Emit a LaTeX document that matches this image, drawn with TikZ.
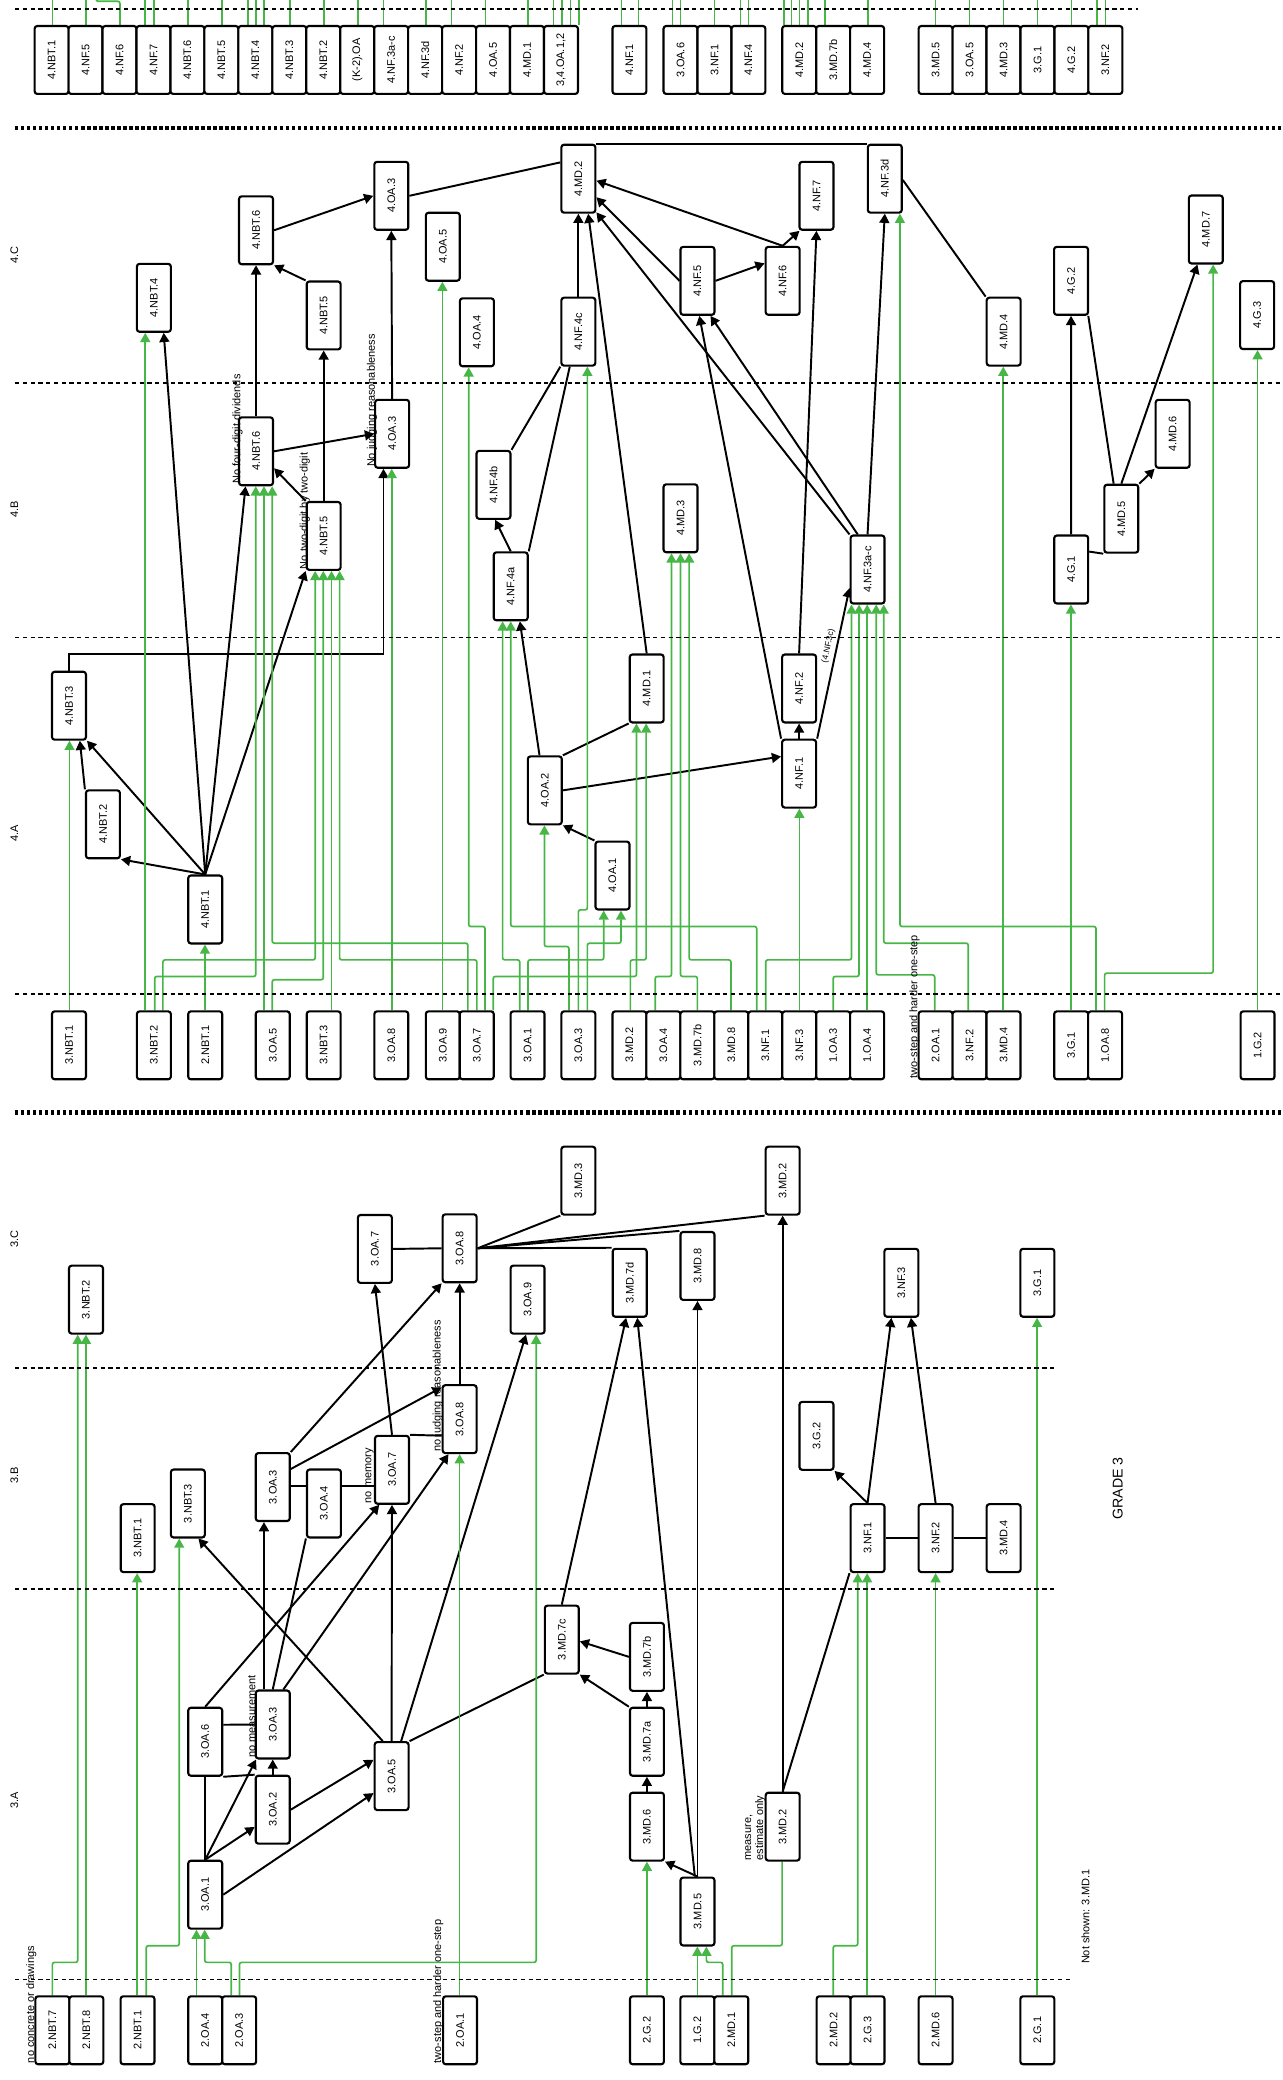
\documentclass[tikz,border=0pt]{standalone}
\usepackage{fontspec}
\setmainfont{Liberation Sans}
\usetikzlibrary{arrows.meta,calc}
\definecolor{gcol}{RGB}{70,182,70}
\newcommand\fsz{\fontsize{6.2}{6.9}\selectfont}
\newcommand\fszs{\fontsize{4.8}{5.4}\selectfont}
\newcommand\fszb{\fontsize{8}{9}\selectfont}
\newcommand\rt[1]{\rotatebox{90}{#1}}
\pgfdeclarelayer{bg}
\pgfsetlayers{bg,main}
\newcommand\gel[5]{\draw[ga] (#2,0 |- #1.north) -- (#2,#3) -- (#5,#3) -- (#5,0 |- #4.south);}
\newcommand\gelna[5]{\draw[gl] (#2,0 |- #1.north) -- (#2,#3) -- (#5,#3) -- (#5,0 |- #4.south);}
\newcommand\gst[3]{\draw[ga] (#2,0 |- #1.north) -- (#2,0 |- #3.south);}
\begin{document}
\begin{tikzpicture}[x=0.75pt,y=-0.75pt,
  box/.style={draw=black, line width=1.2pt, rounded corners=1.5pt, fill=white,
    minimum width=19.2pt, minimum height=38.4pt, inner sep=0pt, font=\fsz},
  bl/.style={line width=1.1pt, black},
  ba/.style={bl, -{Triangle[length=5.2pt,width=5.6pt]}},
  gl/.style={line width=0.95pt, gcol, rounded corners=1.2pt},
  ga/.style={gl, -{Triangle[length=5.2pt,width=5.6pt]}},
  lbl/.style={inner sep=0pt, font=\fsz},
  dsh/.style={line width=0.9pt, dash pattern=on 2.4pt off 2pt},
  thk/.style={line width=2.5pt, dash pattern=on 1.9pt off 1.5pt}]
\useasboundingbox (0,0) rectangle (967,1568);
\coordinate (top) at (0,0);

% ---------- separators ----------
\draw[dsh] (11.3,6.8) -- (858,6.8);
\draw[thk] (11.3,96.5) -- (967,96.5);
\draw[dsh] (11.3,288.7) -- (967,288.7);
\draw[dsh] (11.3,480.6) -- (967,480.6);
\draw[dsh] (11.3,749.2) -- (967,749.2);
\draw[thk] (11.3,838.6) -- (967,838.6);
\draw[dsh] (11.3,1031.3) -- (794.7,1031.3);
\draw[dsh] (11.3,1197.9) -- (794.7,1197.9);
\draw[dsh] (11.3,1492.1) -- (807.1,1492.1);

% ---------- top strip ----------
\foreach \n/\xx/\tx in {t1/38.9/4.NBT.1,t2/64.5/4.NF.5,t3/90.1/4.NF.6,t4/115.7/4.NF.7,
  t5/141.3/4.NBT.6,t6/166.9/4.NBT.5,t7/192.5/4.NBT.4,t8/218.1/4.NBT.3,t9/243.7/4.NBT.2,
  t10/269.3/(K-2).OA,t11/294.9/4.NF.3a-c,t12/320.5/4.NF.3d,t13/346.1/4.NF.2,t14/371.7/4.OA.5,
  t15/397.3/4.MD.1,t16/422.9/{3,4.OA.1,2},t17/474.5/4.NF.1,t18/513/3.OA.6,t19/538.6/3.NF.1,
  t20/564.2/4.NF.4,t21/602.5/4.MD.2,t22/628.1/3.MD.7b,t23/653.7/4.MD.4,t24/705.3/3.MD.5,
  t25/730.9/3.OA.5,t26/756.5/4.MD.3,t27/782.1/3.G.1,t28/807.7/4.G.2,t29/833.3/3.NF.2}
  \node[box] (\n) at (\xx,45.2) {\rt{\tx}};

% ---------- grade 4 ----------
\node[box] (fMD2) at (436,134.7) {\rt{4.MD.2}};
\node[box] (fOA3c) at (295,147.6) {\rt{4.OA.3}};
\node[box] (fNBT6c) at (193,173.6) {\rt{4.NBT.6}};
\node[box] (fOA5) at (333.8,186) {\rt{4.OA.5}};
\node[box] (fNBT4) at (116,224.5) {\rt{4.NBT.4}};
\node[box] (fNBT5c) at (244,237.8) {\rt{4.NBT.5}};
\node[box] (fOA4) at (359.5,250.5) {\rt{4.OA.4}};
\node[box] (fNF4c) at (436,250) {\rt{4.NF.4c}};
\node[box] (fNF3d) at (667,134.7) {\rt{4.NF.3d}};
\node[box] (fNF7) at (615.5,147.6) {\rt{4.NF.7}};
\node[box] (fNF5) at (525.8,211.7) {\rt{4.NF.5}};
\node[box] (fNF6) at (590,211.7) {\rt{4.NF.6}};
\node[box] (fMD7) at (909,173) {\rt{4.MD.7}};
\node[box] (fG2) at (807.4,211.7) {\rt{4.G.2}};
\node[box] (fMD4) at (756.6,250) {\rt{4.MD.4}};
\node[box] (fG3) at (947.7,237.5) {\rt{4.G.3}};
\node[box] (fNBT6b) at (193,340.2) {\rt{4.NBT.6}};
\node[box] (fOA3b) at (295.6,327) {\rt{4.OA.3}};
\node[box] (fNBT5b) at (244,404) {\rt{4.NBT.5}};
\node[box] (fNF4b) at (372,365.5) {\rt{4.NF.4b}};
\node[box] (fNF4a) at (385,442) {\rt{4.NF.4a}};
\node[box] (fMD3) at (513,390.7) {\rt{4.MD.3}};
\node[box] (fNF3abc) at (654,429.3) {\rt{4.NF.3a-c}};
\node[box] (fG1) at (807.5,429.3) {\rt{4.G.1}};
\node[box] (fMD5) at (845.3,391) {\rt{4.MD.5}};
\node[box] (fMD6) at (884,327) {\rt{4.MD.6}};
\node[box] (fNBT3) at (52,532) {\rt{4.NBT.3}};
\node[box] (fMD1) at (487.5,519) {\rt{4.MD.1}};
\node[box] (fNF2) at (602.4,519) {\rt{4.NF.2}};
\node[box] (fNBT2) at (77.6,621.4) {\rt{4.NBT.2}};
\node[box] (fNBT1) at (154.7,685.6) {\rt{4.NBT.1}};
\node[box] (fOA2) at (410.7,595.8) {\rt{4.OA.2}};
\node[box] (fOA1) at (461.7,660) {\rt{4.OA.1}};
\node[box] (fNF1) at (602.4,583.2) {\rt{4.NF.1}};

\foreach \n/\xx/\tx in {p1/52/3.NBT.1,p2/116/3.NBT.2,p3/154.7/2.NBT.1,p4/205.6/3.OA.5,
  p5/244/3.NBT.3,p6/295/3.OA.8,p7/333.8/3.OA.9,p8/359.4/3.OA.7,p9/397.7/3.OA.1,
  p10/436/3.OA.3,p11/474.5/3.MD.2,p12/500.1/3.OA.4,p13/525.7/3.MD.7b,p14/551.3/3.MD.8,
  p15/576.9/3.NF.1,p16/602.5/3.NF.3,p17/628.1/1.OA.3,p18/653.7/1.OA.4,p19/705.3/2.OA.1,
  p20/730.9/3.NF.2,p21/756.5/3.MD.4,p22/807.5/3.G.1,p23/833.1/1.OA.8,p24/948/1.G.2}
  \node[box] (\n) at (\xx,788) {\rt{\tx}};

% ---------- grade 3 ----------
\node[box] (gMD3) at (436,890) {\rt{3.MD.3}};
\node[box] (gOA7c) at (282.6,941.5) {\rt{3.OA.7}};
\node[box] (gOA8c) at (346.5,941) {\rt{3.OA.8}};
\node[box] (gNBT2) at (64.8,979.7) {\rt{3.NBT.2}};
\node[box] (gOA9) at (397.7,979.7) {\rt{3.OA.9}};
\node[box] (gMD7d) at (474.7,967) {\rt{3.MD.7d}};
\node[box] (gMD2c) at (590,890) {\rt{3.MD.2}};
\node[box] (gMD8) at (525.8,954.3) {\rt{3.MD.8}};
\node[box] (gNF3) at (679.5,967) {\rt{3.NF.3}};
\node[box] (gG1) at (782,967) {\rt{3.G.1}};
\node[box] (gOA8b) at (346.5,1069.8) {\rt{3.OA.8}};
\node[box] (gOA7b) at (295.5,1108) {\rt{3.OA.7}};
\node[box] (gOA3b) at (205.6,1121) {\rt{3.OA.3}};
\node[box] (gOA4) at (244.2,1133.4) {\rt{3.OA.4}};
\node[box] (gNBT3) at (141.6,1133.4) {\rt{3.NBT.3}};
\node[box] (gNBT1) at (103.8,1159.5) {\rt{3.NBT.1}};
\node[box] (gMD7c) at (423.5,1236) {\rt{3.MD.7c}};
\node[box] (gG2) at (615.5,1082.4) {\rt{3.G.2}};
\node[box] (gNF1) at (654,1159.5) {\rt{3.NF.1}};
\node[box] (gNF2) at (705.3,1159.5) {\rt{3.NF.2}};
\node[box] (gMD4) at (756.6,1159.5) {\rt{3.MD.4}};
\node[box] (gMD7b) at (487.7,1249) {\rt{3.MD.7b}};
\node[box] (gOA6) at (154.7,1313) {\rt{3.OA.6}};
\node[box] (gOA3a) at (205.6,1300) {\rt{3.OA.3}};
\node[box] (gOA2) at (205.6,1364.2) {\rt{3.OA.2}};
\node[box] (gOA5) at (295.2,1338.9) {\rt{3.OA.5}};
\node[box] (gOA1) at (154.7,1428.3) {\rt{3.OA.1}};
\node[box] (gMD7a) at (487.7,1313) {\rt{3.MD.7a}};
\node[box] (gMD6) at (487.7,1377) {\rt{3.MD.6}};
\node[box] (gMD5) at (525.8,1441) {\rt{3.MD.5}};
\node[box] (gMD2a) at (590,1377) {\rt{3.MD.2}};

\foreach \n/\xx/\tx in {q1/39.5/2.NBT.7,q2/65.1/2.NBT.8,q3/103.7/2.NBT.1,q4/154.7/2.OA.4,
  q5/180.3/2.OA.3,q6/346.8/2.OA.1,q7/487.7/2.G.2,q8/525.7/1.G.2,q9/551.3/2.MD.1,
  q10/628.4/2.MD.2,q11/654/2.G.3,q12/705.3/2.MD.6,q13/782/2.G.1}
  \node[box] (\n) at (\xx,1530.5) {\rt{\tx}};

% ---------- labels ----------
\node[lbl] (s4c) at (10.8,192) {\rt{4.C}};
\node[lbl] (s4b) at (10.8,384) {\rt{4.B}};
\node[lbl] (s4a) at (10.8,628) {\rt{4.A}};
\node[lbl] (s3c) at (10.8,934) {\rt{3.C}};
\node[lbl] (s3b) at (10.8,1112) {\rt{3.B}};
\node[lbl] (s3a) at (10.8,1357) {\rt{3.A}};
\node[lbl, font=\fszb] (gr3) at (842.6,1122) {\rt{GRADE 3}};
\node[lbl] (ns) at (818.2,1445) {\rt{Not shown: 3.MD.1}};
\node[lbl, anchor=south] (l1) at (179,364.8) {\rt{No four-digit dividends}};
\node[lbl, anchor=south] (l2) at (229.8,429.2) {\rt{No two-digit by two-digit}};
\node[lbl, anchor=south] (l3) at (280.5,352.3) {\rt{No judging reasonableness}};
\node[lbl, anchor=south] (l4) at (689.5,813) {\rt{two-step and harder one-step}};
\node[lbl, anchor=south] (l5) at (189.8,1325.3) {\rt{no measurement}};
\node[lbl, anchor=south] (l6) at (278.6,1133.4) {\rt{no memory}};
\node[lbl, anchor=south] (l7) at (330.1,1094.5) {\rt{no judging reasonableness}};
\node[lbl, anchor=south] (l8) at (23.5,1555.5) {\rt{no concrete or drawings}};
\node[lbl, anchor=south] (l9) at (330.4,1555.5) {\rt{two-step and harder one-step}};
\node[lbl, anchor=south] (l10) at (568.9,1402.7) {\rt{\begin{tabular}{@{}l@{}}measure,\\estimate only\end{tabular}}};
\node[inner sep=0pt, font=\fszs, rotate=78] (l11) at (624.5,487) {(4.NF.3c)};

\begin{pgfonlayer}{bg}
% top strip stubs
\foreach \n/\xx in {t1/39.5,t2/64.8,t4/109.5,t4/116,t5/141.6,t6/167.2,t7/186.7,t7/192.8,t7/199,
  t8/218.5,t9/244,t10/270,t11/289.1,t12/320.9,t13/340.3,t14/365.9,t15/398,t16/417.2,t16/423.6,
  t16/430.1,t16/436.3,t17/468.4,t17/481.3,t18/506.9,t18/513,t19/538.6,t20/558.1,t20/564.3,
  t21/591.1,t21/596.6,t21/602.8,t21/609,t22/621.9,t23/654.3,t24/705.3,t25/730.9,t26/756.5,
  t27/782.1,t28/807.7,t29/827.1,t29/833.3}
  \draw[gl] (\xx,0 |- \n.north) -- (\xx,0 |- top);
\draw[gl] (90.4,0 |- t3.north) -- (90.4,1) -- (72.5,1) -- (72.5,0 |- top);

% grade 4 black
\draw[ba] (fNBT6c.east) -- (fOA3c.west);
\draw[bl] (fOA3c.east) -- ($(fMD2.west)+(0,-12.3)$);
\draw[bl] (fMD2.north east) -- (fNF3d.north west);
\draw[ba] (fNF6.north) -- ($(fMD2.east)+(0,1.5)$);
\draw[ba] (fNF5.west) -- ($(fMD2.east)+(0,14)$);
\draw[ba] (fNF3abc.north west) -- ($(fMD2.south east)+(0,-1)$);
\draw[ba] (fNF1.north west) -- ($(fNF5.south)+(1.4,0)$);
\draw[ba] ($(fNF3abc.north)+(-7.4,0)$) -- ($(fNF5.south)+(9.8,0)$);
\draw[ba] (fNF5.east) -- ($(fNF6.west)+(0,-13.2)$);
\draw[ba] (fNF6.north) -- ($(fNF7.south west)+(0.8,0)$);
\draw[ba] (fNF2.north) -- (fNF7.south);
\draw[ba] (fNF1.north) -- (fNF2.south);
\draw[ba] (fNF1.north east) -- ($(fNF3abc.west)+(0,14)$);
\draw[ba] (fNF3abc.north) -- (fNF3d.south);
\draw[bl] ($(fNF3d.east)+(0,1)$) -- (fMD4.north west);
\draw[ba] (fG1.north) -- (fG2.south);
\draw[bl] ($(fMD5.north)+(-5.8,0)$) -- ($(fG2.south east)+(-0.6,0)$);
\draw[ba] (fMD5.north) -- ($(fMD7.south)+(-6.3,0)$);
\draw[ba] (fMD5.north east) -- (fMD6.south west);
\draw[bl] ($(fG1.east)+(0,-13.5)$) -- (fMD5.south west);
\draw[ba] (fNBT6b.north) -- (fNBT6c.south);
\draw[ba] (fNBT5c.north west) -- (fNBT6c.south east);
\draw[ba] (fNBT5b.north) -- (fNBT5c.south);
\draw[ba] (fOA3b.north) -- (fOA3c.south);
\draw[ba] (fNBT6b.east) -- (fOA3b.west);
\draw[ba] (fNBT5b.north west) -- ($(fNBT6b.east)+(0,12.8)$);
\draw[ba] (fNBT1.north) -- (fNBT2.south east);
\draw[ba] (fNBT1.north) -- (fNBT3.south east);
\draw[ba] (fNBT2.north west) -- ($(fNBT3.south)+(8.2,0)$);
\draw[ba] (fNBT1.north) -- ($(fNBT4.south)+(7.4,0)$);
\draw[ba] (fNBT1.north) -- ($(fNBT6b.south)+(-7.9,0)$);
\draw[ba] (fNBT1.north) -- (fNBT5b.south west);
\draw[ba] (fNBT3.north) |- (289.1,493.2) -- (289.1,0 |- fOA3b.south);
\draw[ba] (fOA1.north west) -- (fOA2.south east);
\draw[ba] ($(fOA2.north)+(-4,0)$) -- ($(fNF4a.south)+(6.9,0)$);
\draw[bl] (fOA2.north east) -- (fMD1.south west);
\draw[ba] (fOA2.east) -- ($(fNF1.west)+(0,-12.9)$);
\draw[ba] (fNF4a.north) -- ($(fNF4b.south)+(1.3,0)$);
\draw[bl] (fNF4b.north east) -- (fNF4c.south west);
\draw[bl] (fNF4a.north east) -- ($(fNF4c.south)+(-6.5,0)$);
\draw[ba] (fNF4c.north) -- (fMD2.south);
\draw[ba] (fMD1.north) -- ($(fMD2.south)+(7.4,0)$);

% grade 4 green
\gst{p1}{52.4}{fNBT3}
\gst{p2}{109.5}{fNBT4}
\gel{p2}{116.6}{736.1}{fNBT6b}{192.8}
\gel{p2}{122.8}{723.6}{fNBT5b}{237.6}
\gst{p3}{154.5}{fNBT1}
\gst{p4}{199}{fNBT6b}
\gel{p8}{352.7}{711}{fNBT6b}{205.2}
\gel{p4}{205.2}{738.6}{fNBT5b}{243.7}
\gst{p5}{249.9}{fNBT5b}
\gel{p8}{359.5}{723.6}{fNBT5b}{256}
\gst{p6}{295.3}{fOA3b}
\gst{p7}{333.5}{fOA5}
\gel{p8}{365.6}{698.4}{fOA4}{353.3}
\gel{p8}{371.8}{736.1}{fMD1}{479.8}
\gel{p9}{391.8}{723.6}{fNF4a}{378.9}
\gel{p15}{570.4}{698.4}{fNF4a}{385}
\gel{p9}{398}{723.6}{fOA1}{455.1}
\gel{p10}{428.9}{713.5}{fOA2}{410.4}
\gel{p10}{436}{685.9}{fNF4c}{442.8}
\gel{p10}{442.8}{711}{fOA1}{468.1}
\gel{p11}{475.2}{723.6}{fMD1}{487.1}
\gel{p12}{493.9}{736.1}{fMD3}{506.2}
\gel{p13}{525.7}{736.1}{fMD3}{513}
\gel{p14}{551}{723.6}{fMD3}{519.5}
\gel{p15}{577.2}{723.6}{fNF3abc}{641.9}
\gst{p16}{602.6}{fNF1}
\gel{p17}{628.1}{736.1}{fNF3abc}{647.6}
\gst{p18}{653.7}{fNF3abc}
\gel{p19}{704.6}{734.9}{fNF3abc}{660.5}
\gel{p20}{729.9}{711}{fNF3abc}{666.2}
\gel{p23}{826.2}{698.4}{fNF3d}{678.4}
\gst{p21}{756.3}{fMD4}
\gst{p22}{807.3}{fG1}
\gel{p23}{832.7}{733.6}{fMD7}{914.5}
\gst{p24}{948}{fG3}

% grade 3 black
\draw[ba] (gOA1.north) -- ($(gOA2.west)+(0,13)$);
\draw[ba] (gOA1.north) -- ($(gOA3a.south west)+(1,0)$);
\draw[bl] (gOA1.north) -- (gOA6.south);
\draw[ba] (gOA1.east) -- ($(gOA5.west)+(0,12.8)$);
\draw[ba] (gOA2.east) -- ($(gOA5.west)+(0,-12.3)$);
\draw[ba] (gOA2.north) -- (gOA3a.south);
\draw[bl] ($(gOA6.east)+(0,-12.8)$) -- (gOA3a.west);
\draw[bl] (gOA6.south east) -- (gOA2.north west);
\draw[ba] ($(gOA5.north)+(-6.7,0)$) -- ($(gNBT3.south)+(8,0)$);
\draw[ba] (gOA5.north) -- (gOA7b.south);
\draw[ba] ($(gOA5.north)+(7.2,0)$) -- ($(gOA9.south)+(-1.2,0)$);
\draw[bl] (gOA5.north east) -- (gMD7c.south west);
\draw[ba] (gOA6.north) -- ($(gOA7b.south west)+(4,0)$);
\draw[ba] ($(gOA3a.north east)+(-5.6,0)$) -- ($(gOA8b.south west)+(5.2,0)$);
\draw[ba] ($(gOA3a.north)+(-6.6,0)$) -- ($(gOA3b.south)+(-6.6,0)$);
\draw[bl] (gOA3a.north) -- (gOA4.south west);
\draw[ba] ($(gOA3b.east)+(0,-13.6)$) -- ($(gOA8b.north west)+(0,2.5)$);
\draw[ba] (gOA3b.north east) -- (gOA8c.south west);
\draw[bl] ($(gOA3b.east)+(0,-0.5)$) -- ($(gOA4.west)+(0,-12.9)$);
\draw[bl] ($(gOA4.east)+(0,-12.9)$) -- ($(gOA7b.west)+(0,12.5)$);
\draw[ba] (gOA7b.north) -- (gOA7c.south);
\draw[bl] (gOA7b.north east) -- ($(gOA8b.west)+(0,12.5)$);
\draw[ba] (gOA8b.north) -- (gOA8c.south);
\draw[bl] (gOA7c.east) -- (gOA8c.west);
\draw[bl] (gOA8c.east) -- (gMD3.south west);
\draw[bl] (gOA8c.east) -- (gMD2c.south west);
\draw[bl] (gOA8c.east) -- (gMD8.north west);
\draw[bl] (gOA8c.east) -- (gMD7d.north west);
\draw[ba] (gMD7c.north) -- ($(gMD7d.south)+(-2.7,0)$);
\draw[ba] (gMD7b.west) -- ($(gMD7c.east)+(0,1.3)$);
\draw[ba] (gMD7a.north west) -- (gMD7c.south east);
\draw[ba] (gMD7a.north) -- (gMD7b.south);
\draw[ba] (gMD6.north) -- (gMD7a.south);
\draw[ba] (gMD5.north) -- (gMD6.south east);
\draw[ba] ($(gMD5.north)+(-2,0)$) -- ($(gMD7d.south)+(5.7,0)$);
\draw[ba] (gMD5.north) -- (gMD8.south);
\draw[ba] (gMD2a.north) -- (gMD2c.south);
\draw[bl] (gMD2a.north) -- (gNF1.south west);
\draw[ba] (gNF1.north) -- (gG2.south east);
\draw[ba] (gNF1.north) -- ($(gNF3.south)+(-7.5,0)$);
\draw[ba] (gNF2.north) -- ($(gNF3.south)+(7.2,0)$);
\draw[bl] (gNF1.east) -- (gNF2.west);
\draw[bl] (gNF2.east) -- (gMD4.west);

% grade 3 green
\gel{q1}{39.5}{1479.3}{gNBT2}{58.6}
\gst{q2}{64.8}{gNBT2}
\gst{q3}{103.4}{gNBT1}
\gel{q3}{110.2}{1466.8}{gNBT3}{135.1}
\gst{q4}{148.1}{gOA1}
\gel{q5}{174.3}{1479.3}{gOA1}{154.3}
\gel{q5}{180.5}{1479.3}{gOA9}{404.2}
\gst{q6}{346.5}{gOA8b}
\gst{q7}{487.7}{gMD6}
\gst{q8}{525.7}{gMD5}
\gel{q9}{544.8}{1479.3}{gMD5}{532.5}
\gelna{q9}{551.6}{1466.8}{gMD2a}{589.6}
\gel{q10}{628.1}{1466.8}{gNF1}{646.6}
\gst{q11}{653.7}{gNF1}
\gst{q12}{705.3}{gNF2}
\gst{q13}{781.8}{gG1}
\end{pgfonlayer}
\end{tikzpicture}
\end{document}
